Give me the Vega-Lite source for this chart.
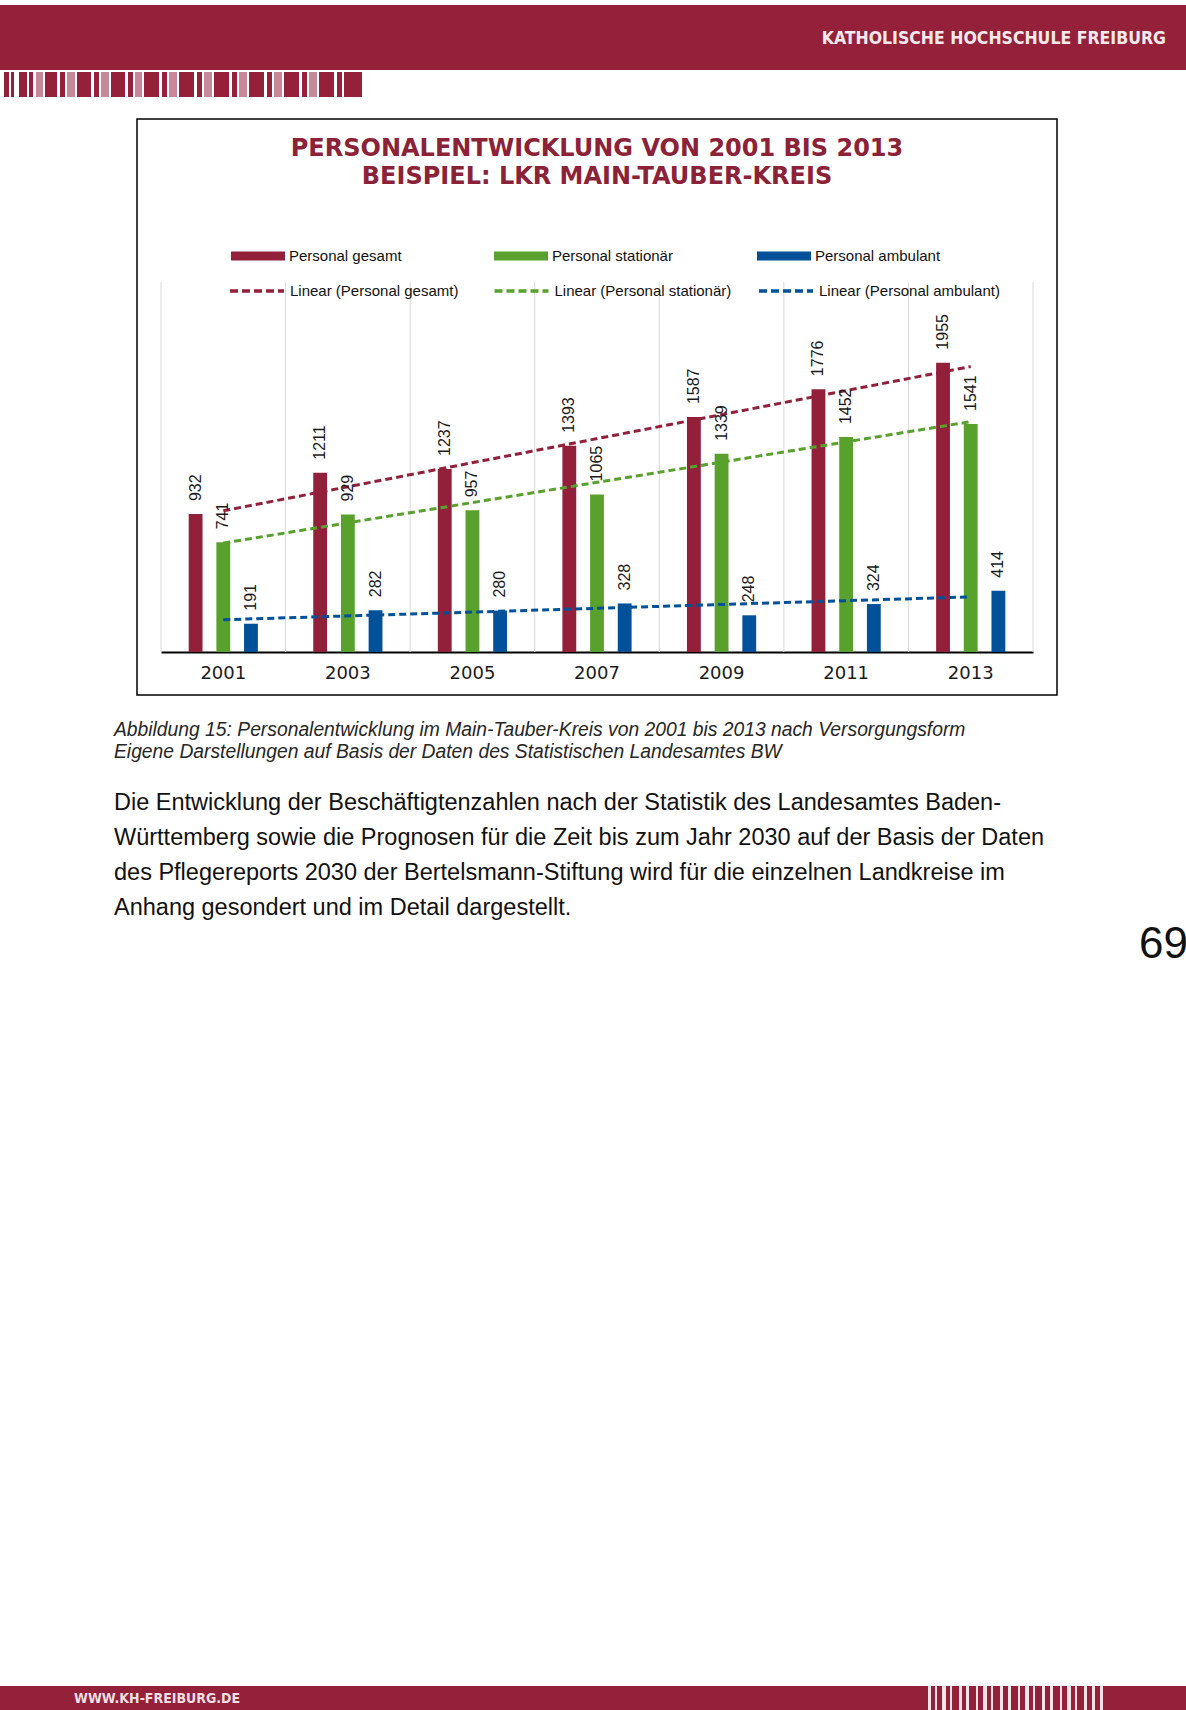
{
"$schema": "https://vega.github.io/schema/vega-lite/v6.json",
"background": "white",
"padding": 0,
"spacing": 0,
"config": {
  "view": {"stroke": null},
  "font": "Liberation Sans",
  "concat": {"spacing": 0},
  "axisX": {"title": null, "labelAngle": 0, "ticks": false, "grid": false, "domainColor": "#000000", "domainWidth": 2, "labelFont": "DejaVu Sans", "labelFontSize": 18, "labelColor": "#1a1a1a", "labelPadding": 12, "offset": -43}
},
"datasets": {
  "d": [
    {"year": 2001, "series": "Personal gesamt", "trend": "Linear (Personal gesamt)", "value": 932},
    {"year": 2003, "series": "Personal gesamt", "trend": "Linear (Personal gesamt)", "value": 1211},
    {"year": 2005, "series": "Personal gesamt", "trend": "Linear (Personal gesamt)", "value": 1237},
    {"year": 2007, "series": "Personal gesamt", "trend": "Linear (Personal gesamt)", "value": 1393},
    {"year": 2009, "series": "Personal gesamt", "trend": "Linear (Personal gesamt)", "value": 1587},
    {"year": 2011, "series": "Personal gesamt", "trend": "Linear (Personal gesamt)", "value": 1776},
    {"year": 2013, "series": "Personal gesamt", "trend": "Linear (Personal gesamt)", "value": 1955},
    {"year": 2001, "series": "Personal stationär", "trend": "Linear (Personal stationär)", "value": 741},
    {"year": 2003, "series": "Personal stationär", "trend": "Linear (Personal stationär)", "value": 929},
    {"year": 2005, "series": "Personal stationär", "trend": "Linear (Personal stationär)", "value": 957},
    {"year": 2007, "series": "Personal stationär", "trend": "Linear (Personal stationär)", "value": 1065},
    {"year": 2009, "series": "Personal stationär", "trend": "Linear (Personal stationär)", "value": 1339},
    {"year": 2011, "series": "Personal stationär", "trend": "Linear (Personal stationär)", "value": 1452},
    {"year": 2013, "series": "Personal stationär", "trend": "Linear (Personal stationär)", "value": 1541},
    {"year": 2001, "series": "Personal ambulant", "trend": "Linear (Personal ambulant)", "value": 191},
    {"year": 2003, "series": "Personal ambulant", "trend": "Linear (Personal ambulant)", "value": 282},
    {"year": 2005, "series": "Personal ambulant", "trend": "Linear (Personal ambulant)", "value": 280},
    {"year": 2007, "series": "Personal ambulant", "trend": "Linear (Personal ambulant)", "value": 328},
    {"year": 2009, "series": "Personal ambulant", "trend": "Linear (Personal ambulant)", "value": 248},
    {"year": 2011, "series": "Personal ambulant", "trend": "Linear (Personal ambulant)", "value": 324},
    {"year": 2013, "series": "Personal ambulant", "trend": "Linear (Personal ambulant)", "value": 414}
  ]
},
"vconcat": [
  {"width": 1, "height": 5, "data": {"values": []}, "mark": "point"},
  {"width": 1186, "height": 65, "data": {"values": []}, "mark": "point",
   "view": {"fill": "#94203a", "stroke": null},
   "title": {"text": "KATHOLISCHE HOCHSCHULE FREIBURG", "orient": "top", "anchor": "end", "frame": "group", "offset": -42, "dx": -20, "font": "DejaVu Sans Condensed", "fontWeight": "bold", "fontSize": 17.5, "color": "#f4e9ec"}},
  {"width": 1, "height": 2, "data": {"values": []}, "mark": "point"},
  {"width": 362, "height": 25, "data": {"values": []}, "mark": "point",
   "view": {"stroke": null, "fill": {"gradient": "linear", "x1": 0, "y1": 0, "x2": 1, "y2": 0, "stops": [
{"offset":0,"color":"#ffffff"},{"offset":0.011,"color":"#ffffff"},{"offset":0.011,"color":"#94203a"},{"offset":0.0249,"color":"#94203a"},{"offset":0.0249,"color":"#ffffff"},{"offset":0.0304,"color":"#ffffff"},{"offset":0.0304,"color":"#94203a"},{"offset":0.0387,"color":"#94203a"},{"offset":0.0387,"color":"#ffffff"},{"offset":0.0525,"color":"#ffffff"},{"offset":0.0525,"color":"#94203a"},{"offset":0.0746,"color":"#94203a"},{"offset":0.0746,"color":"#ffffff"},{"offset":0.0801,"color":"#ffffff"},{"offset":0.0801,"color":"#94203a"},{"offset":0.0912,"color":"#94203a"},{"offset":0.0912,"color":"#ffffff"},{"offset":0.0994,"color":"#ffffff"},{"offset":0.0994,"color":"#c7899a"},{"offset":0.1188,"color":"#c7899a"},{"offset":0.1188,"color":"#ffffff"},{"offset":0.1243,"color":"#ffffff"},{"offset":0.1243,"color":"#94203a"},{"offset":0.1575,"color":"#94203a"},{"offset":0.1575,"color":"#ffffff"},{"offset":0.1657,"color":"#ffffff"},{"offset":0.1657,"color":"#94203a"},{"offset":0.1796,"color":"#94203a"},{"offset":0.1796,"color":"#ffffff"},{"offset":0.1851,"color":"#ffffff"},{"offset":0.1851,"color":"#c7899a"},{"offset":0.2072,"color":"#c7899a"},{"offset":0.2072,"color":"#ffffff"},{"offset":0.2127,"color":"#ffffff"},{"offset":0.2127,"color":"#94203a"},{"offset":0.2514,"color":"#94203a"},{"offset":0.2514,"color":"#ffffff"},{"offset":0.2597,"color":"#ffffff"},{"offset":0.2597,"color":"#94203a"},{"offset":0.2735,"color":"#94203a"},{"offset":0.2735,"color":"#ffffff"},{"offset":0.279,"color":"#ffffff"},{"offset":0.279,"color":"#c7899a"},{"offset":0.3011,"color":"#c7899a"},{"offset":0.3011,"color":"#ffffff"},{"offset":0.3066,"color":"#ffffff"},{"offset":0.3066,"color":"#94203a"},{"offset":0.3453,"color":"#94203a"},{"offset":0.3453,"color":"#ffffff"},{"offset":0.3536,"color":"#ffffff"},{"offset":0.3536,"color":"#94203a"},{"offset":0.3674,"color":"#94203a"},{"offset":0.3674,"color":"#ffffff"},{"offset":0.3729,"color":"#ffffff"},{"offset":0.3729,"color":"#c7899a"},{"offset":0.3923,"color":"#c7899a"},{"offset":0.3923,"color":"#ffffff"},{"offset":0.3978,"color":"#ffffff"},{"offset":0.3978,"color":"#94203a"},{"offset":0.4392,"color":"#94203a"},{"offset":0.4392,"color":"#ffffff"},{"offset":0.4475,"color":"#ffffff"},{"offset":0.4475,"color":"#94203a"},{"offset":0.4613,"color":"#94203a"},{"offset":0.4613,"color":"#ffffff"},{"offset":0.4669,"color":"#ffffff"},{"offset":0.4669,"color":"#c7899a"},{"offset":0.489,"color":"#c7899a"},{"offset":0.489,"color":"#ffffff"},{"offset":0.4945,"color":"#ffffff"},{"offset":0.4945,"color":"#94203a"},{"offset":0.5359,"color":"#94203a"},{"offset":0.5359,"color":"#ffffff"},{"offset":0.5442,"color":"#ffffff"},{"offset":0.5442,"color":"#94203a"},{"offset":0.558,"color":"#94203a"},{"offset":0.558,"color":"#ffffff"},{"offset":0.5635,"color":"#ffffff"},{"offset":0.5635,"color":"#c7899a"},{"offset":0.5856,"color":"#c7899a"},{"offset":0.5856,"color":"#ffffff"},{"offset":0.5912,"color":"#ffffff"},{"offset":0.5912,"color":"#94203a"},{"offset":0.6326,"color":"#94203a"},{"offset":0.6326,"color":"#ffffff"},{"offset":0.6409,"color":"#ffffff"},{"offset":0.6409,"color":"#94203a"},{"offset":0.6547,"color":"#94203a"},{"offset":0.6547,"color":"#ffffff"},{"offset":0.6602,"color":"#ffffff"},{"offset":0.6602,"color":"#c7899a"},{"offset":0.6823,"color":"#c7899a"},{"offset":0.6823,"color":"#ffffff"},{"offset":0.6878,"color":"#ffffff"},{"offset":0.6878,"color":"#94203a"},{"offset":0.7293,"color":"#94203a"},{"offset":0.7293,"color":"#ffffff"},{"offset":0.7376,"color":"#ffffff"},{"offset":0.7376,"color":"#94203a"},{"offset":0.7514,"color":"#94203a"},{"offset":0.7514,"color":"#ffffff"},{"offset":0.7569,"color":"#ffffff"},{"offset":0.7569,"color":"#c7899a"},{"offset":0.779,"color":"#c7899a"},{"offset":0.779,"color":"#ffffff"},{"offset":0.7845,"color":"#ffffff"},{"offset":0.7845,"color":"#94203a"},{"offset":0.826,"color":"#94203a"},{"offset":0.826,"color":"#ffffff"},{"offset":0.8343,"color":"#ffffff"},{"offset":0.8343,"color":"#94203a"},{"offset":0.8481,"color":"#94203a"},{"offset":0.8481,"color":"#ffffff"},{"offset":0.8536,"color":"#ffffff"},{"offset":0.8536,"color":"#c7899a"},{"offset":0.8757,"color":"#c7899a"},{"offset":0.8757,"color":"#ffffff"},{"offset":0.8812,"color":"#ffffff"},{"offset":0.8812,"color":"#94203a"},{"offset":0.9227,"color":"#94203a"},{"offset":0.9227,"color":"#ffffff"},{"offset":0.9309,"color":"#ffffff"},{"offset":0.9309,"color":"#94203a"},{"offset":0.9448,"color":"#94203a"},{"offset":0.9448,"color":"#ffffff"},{"offset":0.9503,"color":"#ffffff"},{"offset":0.9503,"color":"#94203a"},{"offset":1,"color":"#94203a"}
   ]}}},
  {"width": 1, "height": 21, "data": {"values": []}, "mark": "point"},
  {"hconcat": [
    {"width": 136, "height": 1, "data": {"values": []}, "mark": "point"},
    {"width": 920, "height": 576,
     "view": {"stroke": "#000000", "strokeWidth": 1.5},
     "data": {"name": "d"},
     "title": {"text": ["PERSONALENTWICKLUNG VON 2001 BIS 2013", "BEISPIEL: LKR MAIN-TAUBER-KREIS"], "orient": "top", "anchor": "middle", "frame": "group", "offset": -70, "font": "DejaVu Sans", "fontSize": 24, "fontWeight": "bold", "lineHeight": 28, "color": "#8b2237"},
     "layer": [
       {"transform": [{"filter": "datum.series === 'Personal gesamt'"}],
        "mark": {"type": "rule", "color": "#d9d9d9", "strokeWidth": 1},
        "encoding": {
          "x": {"field": "year", "type": "ordinal", "title": null, "bandPosition": 0},
          "y": {"datum": 2500, "type": "quantitative", "axis": null},
          "y2": {"datum": 0}
        }},
       {"transform": [{"filter": "datum.series === 'Personal gesamt' && datum.year === 2013"}],
        "mark": {"type": "rule", "color": "#d9d9d9", "strokeWidth": 1},
        "encoding": {
          "x": {"field": "year", "type": "ordinal", "title": null, "bandPosition": 1},
          "y": {"datum": 2500, "type": "quantitative", "axis": null},
          "y2": {"datum": 0}
        }},
       {"mark": {"type": "bar"},
        "encoding": {
          "x": {"field": "year", "type": "ordinal", "title": null, "scale": {"domain": [2001, 2003, 2005, 2007, 2009, 2011, 2013], "range": [24, 896], "paddingInner": 0, "paddingOuter": 0}},
          "xOffset": {"field": "series", "type": "nominal", "sort": ["Personal gesamt", "Personal stationär", "Personal ambulant"], "scale": {"domain": ["Personal gesamt", "Personal stationär", "Personal ambulant"], "paddingInner": 0.5, "paddingOuter": 1.146}},
          "y": {"field": "value", "type": "quantitative", "axis": null, "scale": {"domain": [0, 2500], "range": [533, 163], "nice": false, "zero": true}},
          "color": {"field": "series", "type": "nominal", "scale": {"domain": ["Personal gesamt", "Personal stationär", "Personal ambulant"], "range": ["#93203b", "#58a12c", "#00519a"]},
            "legend": {"orient": "none", "legendX": 231, "legendY": 229, "direction": "horizontal", "columns": 3, "title": null, "symbolType": "M-1,-0.17H1V0.17H-1Z", "symbolSize": 2916, "symbolStrokeWidth": 0, "labelFont": "Liberation Sans", "labelFontSize": 15, "labelColor": "#111111", "labelLimit": 400, "columnPadding": 79, "gridAlign": "all", "labelOffset": 4}}
        }},
       {"transform": [{"regression": "value", "on": "year", "groupby": ["series", "trend"], "method": "linear"}],
        "mark": {"type": "line", "strokeDash": [7, 4], "strokeWidth": 3},
        "encoding": {
          "x": {"field": "year", "type": "ordinal", "title": null},
          "y": {"field": "value", "type": "quantitative", "axis": null},
          "stroke": {"field": "trend", "type": "nominal", "scale": {"domain": ["Linear (Personal gesamt)", "Linear (Personal stationär)", "Linear (Personal ambulant)"], "range": ["#93203b", "#58a12c", "#00519a"]},
            "legend": {"orient": "none", "legendX": 228, "legendY": 262, "direction": "horizontal", "columns": 3, "title": null, "symbolType": "stroke", "symbolSize": 2916, "symbolStrokeWidth": 3.5, "symbolDash": [8, 4], "labelFont": "Liberation Sans", "labelFontSize": 15, "labelColor": "#111111", "labelLimit": 400, "columnPadding": 16.5, "gridAlign": "all", "labelOffset": 4}}
        }},
       {"mark": {"type": "text", "angle": 270, "align": "left", "baseline": "middle", "dx": 13, "fontSize": 16, "font": "Liberation Sans", "color": "#1a1a1a"},
        "encoding": {
          "x": {"field": "year", "type": "ordinal", "title": null},
          "xOffset": {"field": "series", "type": "nominal", "sort": ["Personal gesamt", "Personal stationär", "Personal ambulant"]},
          "y": {"field": "value", "type": "quantitative", "axis": null},
          "text": {"field": "value", "type": "quantitative"}
        }}
     ]}
  ]},
  {"width": 1, "height": 24, "data": {"values": []}, "mark": "point"},
  {"width": 1186, "height": 1, "data": {"values": []}, "mark": "point",
   "title": {"text": ["Abbildung 15: Personalentwicklung im Main-Tauber-Kreis von 2001 bis 2013 nach Versorgungsform", "Eigene Darstellungen auf Basis der Daten des Statistischen Landesamtes BW"],
     "subtitle": ["Die Entwicklung der Beschäftigtenzahlen nach der Statistik des Landesamtes Baden-", "Württemberg sowie die Prognosen für die Zeit bis zum Jahr 2030 auf der Basis der Daten", "des Pflegereports 2030 der Bertelsmann-Stiftung wird für die einzelnen Landkreise im", "Anhang gesondert und im Detail dargestellt."],
     "anchor": "start", "orient": "top", "frame": "group", "offset": 0, "dx": 114,
     "font": "Liberation Sans", "fontStyle": "italic", "fontWeight": "normal", "fontSize": 19.3, "lineHeight": 22, "color": "#262626",
     "subtitleFont": "Liberation Sans", "subtitleFontStyle": "normal", "subtitleFontSize": 23.5, "subtitleLineHeight": 35.2, "subtitleColor": "#111111", "subtitlePadding": 29}},
  {"width": 1186, "height": 765, "data": {"values": []}, "mark": "point",
   "title": {"text": "69", "orient": "top", "anchor": "end", "frame": "group", "offset": -46, "dx": 2, "font": "Liberation Sans", "fontWeight": "normal", "fontSize": 44, "color": "#111111"}},
  {"hconcat": [
    {"width": 928, "height": 26, "data": {"values": []}, "mark": "point",
     "view": {"fill": "#94203a", "stroke": null},
     "title": {"text": "WWW.KH-FREIBURG.DE", "orient": "top", "anchor": "start", "frame": "group", "offset": -20, "dx": 74, "font": "DejaVu Sans Condensed", "fontWeight": "bold", "fontSize": 14, "color": "#f0dfe3"}},
    {"width": 178, "height": 26, "data": {"values": []}, "mark": "point",
     "view": {"stroke": null, "fill": {"gradient": "linear", "x1": 0, "y1": 0, "x2": 1, "y2": 0, "stops": [
{"offset":0,"color":"#f2e4e8"},{"offset":0.0169,"color":"#f2e4e8"},{"offset":0.0169,"color":"#94203a"},{"offset":0.0393,"color":"#94203a"},{"offset":0.0393,"color":"#f2e4e8"},{"offset":0.0506,"color":"#f2e4e8"},{"offset":0.0506,"color":"#94203a"},{"offset":0.0787,"color":"#94203a"},{"offset":0.0787,"color":"#f2e4e8"},{"offset":0.1011,"color":"#f2e4e8"},{"offset":0.1011,"color":"#94203a"},{"offset":0.1236,"color":"#94203a"},{"offset":0.1236,"color":"#f2e4e8"},{"offset":0.1348,"color":"#f2e4e8"},{"offset":0.1348,"color":"#94203a"},{"offset":0.1742,"color":"#94203a"},{"offset":0.1742,"color":"#f2e4e8"},{"offset":0.191,"color":"#f2e4e8"},{"offset":0.191,"color":"#94203a"},{"offset":0.2135,"color":"#94203a"},{"offset":0.2135,"color":"#f2e4e8"},{"offset":0.2303,"color":"#f2e4e8"},{"offset":0.2303,"color":"#94203a"},{"offset":0.2697,"color":"#94203a"},{"offset":0.2697,"color":"#f2e4e8"},{"offset":0.2809,"color":"#f2e4e8"},{"offset":0.2809,"color":"#94203a"},{"offset":0.309,"color":"#94203a"},{"offset":0.309,"color":"#f2e4e8"},{"offset":0.3315,"color":"#f2e4e8"},{"offset":0.3315,"color":"#94203a"},{"offset":0.3539,"color":"#94203a"},{"offset":0.3539,"color":"#f2e4e8"},{"offset":0.3652,"color":"#f2e4e8"},{"offset":0.3652,"color":"#94203a"},{"offset":0.4045,"color":"#94203a"},{"offset":0.4045,"color":"#f2e4e8"},{"offset":0.4213,"color":"#f2e4e8"},{"offset":0.4213,"color":"#94203a"},{"offset":0.4494,"color":"#94203a"},{"offset":0.4494,"color":"#f2e4e8"},{"offset":0.4663,"color":"#f2e4e8"},{"offset":0.4663,"color":"#94203a"},{"offset":0.5056,"color":"#94203a"},{"offset":0.5056,"color":"#f2e4e8"},{"offset":0.5169,"color":"#f2e4e8"},{"offset":0.5169,"color":"#94203a"},{"offset":0.5449,"color":"#94203a"},{"offset":0.5449,"color":"#f2e4e8"},{"offset":0.5674,"color":"#f2e4e8"},{"offset":0.5674,"color":"#94203a"},{"offset":0.5899,"color":"#94203a"},{"offset":0.5899,"color":"#f2e4e8"},{"offset":0.6011,"color":"#f2e4e8"},{"offset":0.6011,"color":"#94203a"},{"offset":0.6404,"color":"#94203a"},{"offset":0.6404,"color":"#f2e4e8"},{"offset":0.6573,"color":"#f2e4e8"},{"offset":0.6573,"color":"#94203a"},{"offset":0.6854,"color":"#94203a"},{"offset":0.6854,"color":"#f2e4e8"},{"offset":0.7022,"color":"#f2e4e8"},{"offset":0.7022,"color":"#94203a"},{"offset":0.7416,"color":"#94203a"},{"offset":0.7416,"color":"#f2e4e8"},{"offset":0.7528,"color":"#f2e4e8"},{"offset":0.7528,"color":"#94203a"},{"offset":0.7809,"color":"#94203a"},{"offset":0.7809,"color":"#f2e4e8"},{"offset":0.8034,"color":"#f2e4e8"},{"offset":0.8034,"color":"#94203a"},{"offset":0.8258,"color":"#94203a"},{"offset":0.8258,"color":"#f2e4e8"},{"offset":0.8371,"color":"#f2e4e8"},{"offset":0.8371,"color":"#94203a"},{"offset":0.8764,"color":"#94203a"},{"offset":0.8764,"color":"#f2e4e8"},{"offset":0.8933,"color":"#f2e4e8"},{"offset":0.8933,"color":"#94203a"},{"offset":0.9213,"color":"#94203a"},{"offset":0.9213,"color":"#f2e4e8"},{"offset":0.9382,"color":"#f2e4e8"},{"offset":0.9382,"color":"#94203a"},{"offset":0.9663,"color":"#94203a"},{"offset":0.9663,"color":"#f2e4e8"},{"offset":0.9831,"color":"#f2e4e8"},{"offset":0.9831,"color":"#94203a"},{"offset":1,"color":"#94203a"}
     ]}}},
    {"width": 80, "height": 26, "data": {"values": []}, "mark": "point",
     "view": {"fill": "#94203a", "stroke": null}}
  ]}
]
}
